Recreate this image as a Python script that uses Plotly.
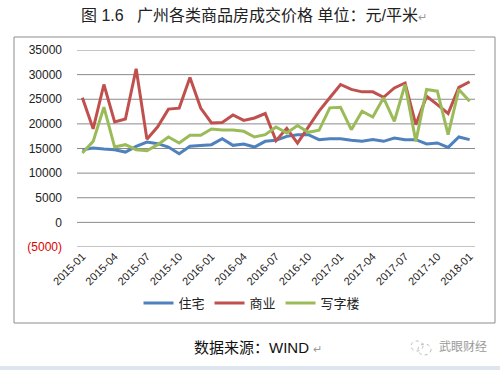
import plotly.graph_objects as go

months = [f"{y}-{m:02d}" for y in (2015, 2016, 2017) for m in range(1, 13)] + ["2018-01"]

residential = [14760, 15100, 14900, 14760, 14280, 15440, 16320, 15980, 15300, 13940,
               15440, 15570, 15780, 17000, 15640, 15920, 15300, 16460, 16660, 17470,
               17810, 17810, 16800, 17000, 17000, 16660, 16460, 16800, 16460, 17130,
               16800, 16800, 15920, 16120, 15230, 17340, 16800]
commercial = [25300, 19000, 28000, 20400, 21000, 31200, 16900, 19400, 23000, 23200,
              29400, 23200, 20200, 20300, 21800, 20700, 21200, 22100, 16600, 19100,
              16100, 19400, 22600, 25300, 28000, 27000, 26500, 26500, 25400, 27300,
              28300, 19850, 25600, 23900, 22100, 27400, 28550]
office = [14080, 16450, 23380, 15300, 15780, 14760, 14550, 15780, 17340, 16120,
          17680, 17680, 18970, 18760, 18760, 18490, 17340, 17810, 19370, 18150,
          19650, 18290, 18700, 23250, 23380, 18830, 22570, 21400, 25290, 20530,
          28000, 16450, 27000, 26640, 17810, 27000, 24600]

series_names = ["住宅", "商业", "写字楼"]
series_colors = ["#4F81BD", "#C0504D", "#9BBB59"]

y_ticks = [-5000, 0, 5000, 10000, 15000, 20000, 25000, 30000, 35000]
y_ticktext = ["<span style='color:#E00000'>(5000)</span>"] + [str(v) for v in y_ticks[1:]]
x_tickvals = months[::3]

title_text = "图 1.6   广州各类商品房成交价格 单位：元/平米"
source_text = "数据来源：WIND"
watermark_text = "武眼财经"

FONT = "Liberation Sans, Arial, Noto Sans CJK SC"

fig = go.Figure()
for name, vals, col in zip(series_names, [residential, commercial, office], series_colors):
    fig.add_trace(go.Scatter(x=months, y=vals, name=name, mode="lines",
                             line=dict(color=col, width=3)))

# plot area: x 77..475, y 50.3..247
L, R, T, B = 77, 25, 50, 123
pw, ph = 500 - L - R, 370 - T - B

def px_x(p):
    return (p - L) / pw

def px_y(p):
    return (370 - B - p) / ph

GRID = "#8a8a8a"

fig.update_layout(
    width=500, height=370,
    margin=dict(l=L, r=R, t=T, b=B),
    paper_bgcolor="white", plot_bgcolor="white",
    font=dict(family=FONT, size=12, color="#222"),
    showlegend=True,
    legend=dict(orientation="h", xanchor="center", x=px_x(252), yanchor="middle", y=px_y(303),
                font=dict(size=13, color="#222"), itemwidth=30, tracegroupgap=0,
                bgcolor="rgba(0,0,0,0)"),
    xaxis=dict(type="category", range=[-0.5, 36.5], tickmode="array", tickvals=x_tickvals,
               ticktext=x_tickvals, tickangle=-45, tickfont=dict(size=11, color="#222"),
               showgrid=False, showline=False, ticks="", zeroline=False),
    yaxis=dict(range=[-5000, 35000], tickmode="array", tickvals=y_ticks, ticktext=y_ticktext,
               tickfont=dict(size=12, color="#222"), showgrid=False,
               zeroline=False, showline=False, ticks="", ticklabelstandoff=14),
)

# horizontal gridlines drawn at each y tick
for v in y_ticks:
    fig.add_shape(type="line", xref="paper", yref="y", x0=0, x1=1, y0=v, y1=v,
                  line=dict(color=GRID, width=1), layer="below")

# outer chart frame
fig.add_shape(type="rect", xref="paper", yref="paper",
              x0=px_x(14), x1=px_x(495), y0=px_y(323), y1=px_y(37),
              line=dict(color="#8c8c8c", width=1), fillcolor="rgba(0,0,0,0)")
# bottom light strip
fig.add_shape(type="rect", xref="paper", yref="paper",
              x0=px_x(0), x1=px_x(500), y0=px_y(370), y1=px_y(366),
              line=dict(width=0), fillcolor="#dde6f0")

fig.add_annotation(xref="paper", yref="paper", x=px_x(254), y=px_y(15), showarrow=False,
                   text=title_text + "<span style='color:#999;font-size:11px'>↵</span>",
                   font=dict(size=16, color="#222"), xanchor="center", yanchor="middle")
fig.add_annotation(xref="paper", yref="paper", x=px_x(192), y=px_y(347), showarrow=False,
                   text=source_text + " <span style='color:#999;font-size:11px'>↵</span>",
                   font=dict(size=15, color="#111"), xanchor="left", yanchor="middle")
fig.add_annotation(xref="paper", yref="paper", x=px_x(437), y=px_y(347), showarrow=False,
                   text=watermark_text, font=dict(size=12, color="#9a9a9a"),
                   xanchor="left", yanchor="middle")
# small wechat-like icon
fig.add_shape(type="circle", xref="paper", yref="paper",
              x0=px_x(411), x1=px_x(423), y0=px_y(351), y1=px_y(341),
              line=dict(color="#bbbbbb", width=1, dash="dot"))
fig.add_shape(type="circle", xref="paper", yref="paper",
              x0=px_x(418), x1=px_x(431), y0=px_y(355), y1=px_y(344),
              line=dict(color="#bbbbbb", width=1, dash="dot"))

fig.write_html("out.html", config={"displayModeBar": False},
               post_script="document.body.style.margin='0';")
